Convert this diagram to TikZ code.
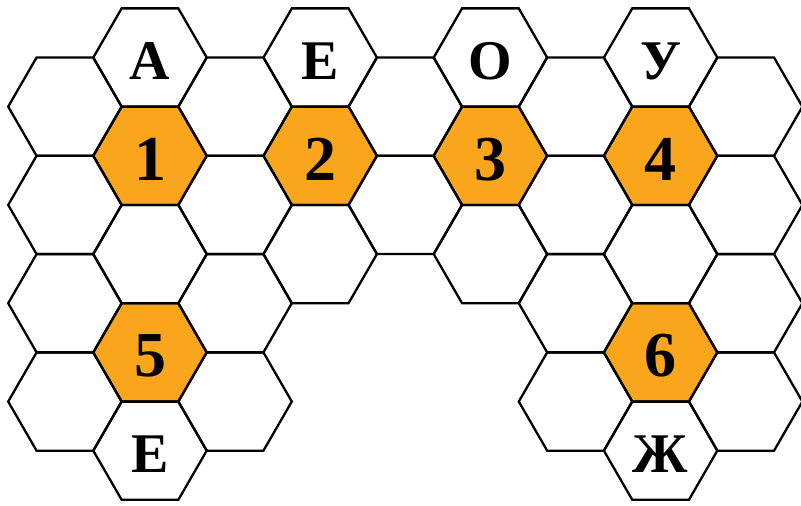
\documentclass[tikz,border=0pt]{standalone}
\usepackage{fontspec}
\setmainfont{Liberation Serif}
\definecolor{honey}{RGB}{249,166,28}
\tikzset{
  hexline/.style={draw=black,line width=2.3pt,line join=miter},
  hexfill/.style={fill=honey},
  lbl/.style={inner sep=0pt,font=\bfseries\fontsize{56}{56}\selectfont},
  dig/.style={inner sep=0pt,font=\bfseries\fontsize{64}{64}\selectfont}
}
\newcommand{\hexR}{56.7}
\begin{document}
\begin{tikzpicture}[x=1pt,y=-1pt]
\useasboundingbox (0,0) rectangle (801,506);
% orange fills
\foreach \c/\r in {1/2,3/2,5/2,7/2,1/6,7/6}{
  \pgfmathsetmacro\hx{64.9+\c*85.1}
  \pgfmathsetmacro\hy{57.5+\r*49.15}
  \fill[hexfill] (\hx,\hy) +(0:\hexR) -- +(60:\hexR) -- +(120:\hexR) -- +(180:\hexR) -- +(240:\hexR) -- +(300:\hexR) -- cycle;
}
% outlines
\foreach \c/\r in {0/1,0/3,0/5,0/7,
                   1/0,1/2,1/4,1/6,1/8,
                   2/1,2/3,2/5,2/7,
                   3/0,3/2,3/4,
                   4/1,4/3,
                   5/0,5/2,5/4,
                   6/1,6/3,6/5,6/7,
                   7/0,7/2,7/4,7/6,7/8,
                   8/1,8/3,8/5,8/7}{
  \pgfmathsetmacro\hx{64.9+\c*85.1}
  \pgfmathsetmacro\hy{57.5+\r*49.15}
  \draw[hexline] (\hx,\hy) +(0:\hexR) -- +(60:\hexR) -- +(120:\hexR) -- +(180:\hexR) -- +(240:\hexR) -- +(300:\hexR) -- cycle;
}
% labels
\node[lbl] (la) at (150.0,61) {А};
\node[lbl] (le) at (320.2,61) {Е};
\node[lbl] (lo) at (490.4,61) {О};
\node[lbl] (lu) at (660.6,61) {У};
\node[dig] (n1) at (150.0,159.3) {1};
\node[dig] (n2) at (320.2,159.3) {2};
\node[dig] (n3) at (490.4,159.3) {3};
\node[dig] (n4) at (660.6,159.3) {4};
\node[dig] (n5) at (150.0,355.9) {5};
\node[dig] (n6) at (660.6,355.9) {6};
\node[lbl] (lb) at (150.0,454.2) {Е};
\node[lbl] (lz) at (660.6,454.2) {Ж};
\end{tikzpicture}
\end{document}
